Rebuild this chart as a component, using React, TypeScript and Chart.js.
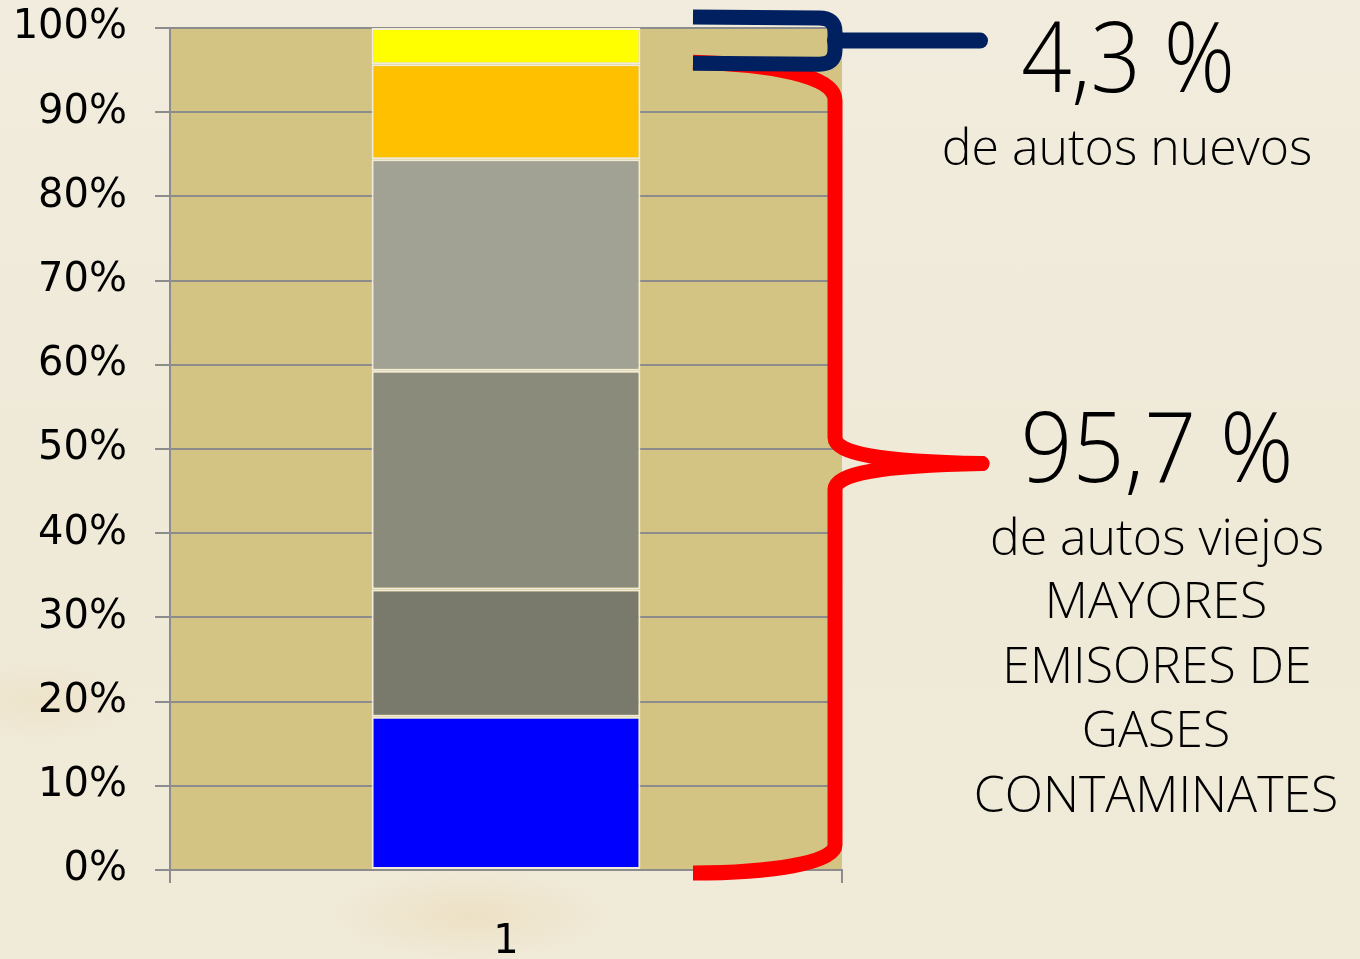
import React, { useEffect, useRef } from "react";
import { Chart, registerables } from "chart.js";

Chart.register(...registerables);

// ---- data ----
const categories = ["1"];
const segAzul = [18.2];
const segGrisOscuro = [15.1];
const segGrisMedio = [26.0];
const segGrisClaro = [25.1];
const segNaranja = [11.3];
const segAmarillo = [4.3];
const yTickValues = [0, 10, 20, 30, 40, 50, 60, 70, 80, 90, 100];
const pctNuevos = 4.3;
const pctViejos = 95.7;

const seriesColors = ["#0000FF", "#7A7A6C", "#8A8B7A", "#A1A194", "#FFC000", "#FFFF00"];
const seriesData = [segAzul, segGrisOscuro, segGrisMedio, segGrisClaro, segNaranja, segAmarillo];
const seriesNames = ["Segmento 1", "Segmento 2", "Segmento 3", "Segmento 4", "Segmento 5", "Segmento 6"];

const W = 1360;
const H = 959;

const plotBgPlugin = {
  id: "plotBg",
  beforeDraw(chart: any) {
    const { ctx, chartArea } = chart;
    ctx.save();
    ctx.fillStyle = "#D4C484";
    ctx.fillRect(chartArea.left, chartArea.top, chartArea.right - chartArea.left, chartArea.bottom - chartArea.top);
    ctx.restore();
  },
};

const bracesPlugin = {
  id: "braces",
  afterDraw(chart: any) {
    const { ctx, chartArea } = chart;
    const y = chart.scales.y;
    const right = chartArea.right;
    const xl = right - 149;
    const xv = right - 7;
    const xTip = right + 140;

    // red brace: old cars 0 .. pctViejos
    const yTopR = y.getPixelForValue(pctViejos) - 2;
    const yBotR = y.getPixelForValue(0) + 3;
    const yMidR = (yTopR + yBotR) / 2 - 4;
    ctx.save();
    ctx.strokeStyle = "#FF0000";
    ctx.lineWidth = 15;
    ctx.lineJoin = "round";
    ctx.lineCap = "butt";
    ctx.beginPath();
    ctx.moveTo(xl, yTopR);
    ctx.bezierCurveTo(xl + 77, yTopR + 2, xv, yTopR + 13, xv, yTopR + 38);
    ctx.lineTo(xv, yMidR - 26);
    ctx.bezierCurveTo(xv, yMidR - 10, xv + 45, yMidR - 2, xTip, yMidR);
    ctx.bezierCurveTo(xv + 45, yMidR + 2, xv, yMidR + 10, xv, yMidR + 26);
    ctx.lineTo(xv, yBotR - 28);
    ctx.bezierCurveTo(xv, yBotR - 10, xl + 77, yBotR, xl, yBotR);
    ctx.stroke();
    ctx.fillStyle = "#FF0000";
    ctx.beginPath();
    ctx.arc(xTip, yMidR, 7.5, 0, Math.PI * 2);
    ctx.fill();

    // navy brace: new cars pctViejos .. 100
    const yTopN = y.getPixelForValue(100) - 11;
    const yBotN = y.getPixelForValue(pctViejos);
    const yMidN = (yTopN + yBotN) / 2;
    ctx.strokeStyle = "#002060";
    ctx.fillStyle = "#002060";
    ctx.lineWidth = 15;
    ctx.beginPath();
    ctx.moveTo(xl, yTopN);
    ctx.lineTo(xv - 16, yTopN + 1);
    ctx.quadraticCurveTo(xv, yTopN + 1, xv, yTopN + 15);
    ctx.lineTo(xv, yBotN - 14);
    ctx.quadraticCurveTo(xv, yBotN, xv - 16, yBotN);
    ctx.lineTo(xl, yBotN - 1);
    ctx.stroke();
    ctx.lineWidth = 16;
    ctx.lineCap = "round";
    ctx.beginPath();
    ctx.moveTo(xv, yMidN);
    ctx.lineTo(xTip - 2, yMidN);
    ctx.stroke();
    ctx.restore();
  },
};

const textFont = "'Open Sans', 'DejaVu Sans', sans-serif";

type Line = { text: string; cx: number; baseline: number; size: number; sx?: number };
const lines: Line[] = [
  { text: "4,3 %", cx: 1128, baseline: 92, size: 98, sx: 0.9 },
  { text: "de autos nuevos", cx: 1127, baseline: 165, size: 50 },
  { text: "95,7 %", cx: 1157, baseline: 482, size: 98, sx: 0.93 },
  { text: "de autos viejos", cx: 1157, baseline: 555, size: 50 },
  { text: "MAYORES", cx: 1156, baseline: 618, size: 50 },
  { text: "EMISORES DE", cx: 1157, baseline: 683, size: 50 },
  { text: "GASES", cx: 1156, baseline: 747, size: 50 },
  { text: "CONTAMINATES", cx: 1156, baseline: 812, size: 50 },
];

export default function App() {
  const canvasRef = useRef<HTMLCanvasElement | null>(null);

  useEffect(() => {
    if (!canvasRef.current) return;
    const chart = new Chart(canvasRef.current, {
      type: "bar",
      data: {
        labels: categories,
        datasets: seriesData.map((d, i) => ({
          label: seriesNames[i],
          data: d,
          backgroundColor: seriesColors[i],
          borderColor: "#F1ECDA",
          borderWidth: 2,
          borderSkipped: false,
          barPercentage: 0.4,
          categoryPercentage: 1,
        })),
      },
      options: {
        responsive: false,
        animation: false,
        events: [],
        layout: { padding: { left: 0, top: 28, right: W - 842, bottom: 0 } },
        plugins: { legend: { display: false }, tooltip: { enabled: false } },
        scales: {
          x: {
            stacked: true,
            afterFit: (s: any) => {
              s.height = H - 870;
              s.paddingLeft = 0;
              s.paddingRight = 0;
            },
            grid: {
              offset: true,
              drawOnChartArea: false,
              drawTicks: true,
              tickLength: 13,
              color: "#8C8C8C",
              lineWidth: 2,
            },
            border: { display: true, color: "#8C8C8C", width: 2 },
            ticks: {
              color: "#000",
              padding: 36,
              font: { family: "'DejaVu Sans', sans-serif", size: 40 },
            },
          },
          y: {
            stacked: true,
            min: 0,
            max: 100,
            afterFit: (s: any) => {
              s.width = 170;
              s.paddingTop = 0;
              s.paddingBottom = 0;
            },
            afterBuildTicks: (s: any) => {
              s.ticks = yTickValues.map((v) => ({ value: v }));
            },
            grid: {
              drawTicks: true,
              tickLength: 15,
              color: "#8C8C8C",
              lineWidth: 2,
            },
            border: { display: true, color: "#8C8C8C", width: 2 },
            ticks: {
              color: "#000",
              padding: 28,
              font: { family: "'DejaVu Sans', sans-serif", size: 40 },
              callback: (v: any) => v + "%",
            },
          },
        },
      },
      plugins: [plotBgPlugin, bracesPlugin],
    });
    return () => chart.destroy();
  }, []);

  return (
    <div
      style={{
        position: "absolute",
        left: 0,
        top: 0,
        width: W,
        height: H,
        overflow: "hidden",
        background:
          "radial-gradient(ellipse 140px 45px at 470px 915px, rgba(232,208,160,0.35), rgba(232,208,160,0) 100%)," +
          "radial-gradient(ellipse 90px 40px at 40px 700px, rgba(232,212,168,0.3), rgba(232,212,168,0) 100%)," +
          "linear-gradient(180deg, #F1ECDD 0%, #EFE9D8 50%, #F0EAD8 100%)",
      }}
    >
      <canvas ref={canvasRef} width={W} height={H} style={{ position: "absolute", left: 0, top: 0 }} />
      {lines.map((l, i) => (
        <div
          key={i}
          style={{
            position: "absolute",
            left: l.cx - 300,
            width: 600,
            top: l.baseline - 0.888 * l.size,
            fontFamily: textFont,
            fontWeight: 350,
            fontSize: l.size,
            lineHeight: `${l.size}px`,
            textAlign: "center",
            color: "#000",
            whiteSpace: "nowrap",
            transform: l.sx ? `scaleX(${l.sx})` : undefined,
            transformOrigin: "center",
          }}
        >
          {l.text}
        </div>
      ))}
    </div>
  );
}
